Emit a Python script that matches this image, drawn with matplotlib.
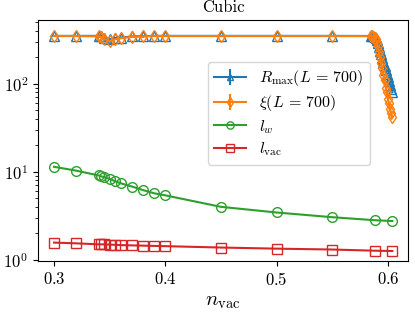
import numpy as np
import matplotlib
matplotlib.use('Agg')
import matplotlib.pyplot as plt

plt.rcParams['font.family'] = ['cmr10', 'DejaVu Serif']
plt.rcParams['mathtext.fontset'] = 'cm'
plt.rcParams['axes.formatter.use_mathtext'] = True
plt.rcParams['axes.unicode_minus'] = False

# length scales vs n_vac
n_base = [0.3, 0.32, 0.34, 0.342, 0.345, 0.35, 0.355, 0.36, 0.37, 0.38, 0.39, 0.4,
          0.45, 0.5, 0.55, 0.588, 0.604]
l_w = [11.4, 10.3, 9.1, 8.9, 8.7, 8.3, 7.8, 7.4, 6.8, 6.2, 5.7, 5.4,
       4.0, 3.45, 3.05, 2.82, 2.76]
l_vac = [1.57, 1.54, 1.50, 1.50, 1.50, 1.49, 1.48, 1.47, 1.46, 1.45, 1.44, 1.43,
         1.38, 1.34, 1.31, 1.27, 1.26]

n_L = [0.3, 0.32, 0.34, 0.342, 0.345, 0.35, 0.355, 0.36, 0.37, 0.38, 0.39, 0.4,
       0.45, 0.5, 0.55, 0.585, 0.586, 0.587, 0.588, 0.589, 0.59, 0.591, 0.592,
       0.593, 0.594, 0.595, 0.596, 0.597, 0.598, 0.599, 0.6, 0.601, 0.602,
       0.603, 0.604]
R_max = [350, 350, 350, 345, 335, 320, 330, 335, 345, 348, 350, 350,
         350, 350, 350, 349, 348, 345, 340, 330, 315, 290, 260, 235, 215,
         195, 175, 160, 145, 130, 118, 108, 98, 88, 80]
xi = [348, 348, 345, 340, 325, 305, 320, 330, 340, 345, 348, 348,
      348, 348, 348, 347, 345, 342, 335, 320, 300, 270, 230, 200, 170,
      150, 125, 110, 90, 80, 68, 60, 52, 46, 42]
R_err = [0.02 * v for v in R_max]
xi_err = [0.03 * v for v in xi]

fig = plt.figure(figsize=(4.15, 3.15), dpi=100)
ax = fig.add_axes([0.0916, 0.1714, 0.8914, 0.7651])

h1 = ax.errorbar(n_L, R_max, yerr=R_err, color='tab:blue', marker='^', mfc='none',
                 ms=6.5, label=r'$R_{\max}(L\,=\,700)$')
h2 = ax.errorbar(n_L, xi, yerr=xi_err, color='tab:orange', marker='d', mfc='none',
                 ms=6.5, label=r'$\xi(L\,=\,700)$')
h3, = ax.plot(n_base, l_w, color='tab:green', marker='o', mfc='none', ms=7,
              label=r'$l_w$')
h4, = ax.plot(n_base, l_vac, color='tab:red', marker='s', mfc='none', ms=7,
              label=r'$l_{\rm vac}$')

ax.set_yscale('log')
ax.set_ylim(0.97, 530)
ax.set_xlim(0.2856, 0.618)
ax.set_xticks([0.3, 0.4, 0.5, 0.6])
ax.tick_params(labelsize=12)
ax.set_xlabel(r'$n_{\rm vac}$', fontsize=15)
ax.set_title('Cubic', fontsize=12)
ax.legend(handles=[h1, h2, h3, h4], loc='upper right',
          bbox_to_anchor=(0.897, 0.826), borderaxespad=0, fontsize=11.5,
          handlelength=2.0, labelspacing=0.3, borderpad=0.4, markerscale=0.75)

fig.savefig('out.png', dpi=100)
